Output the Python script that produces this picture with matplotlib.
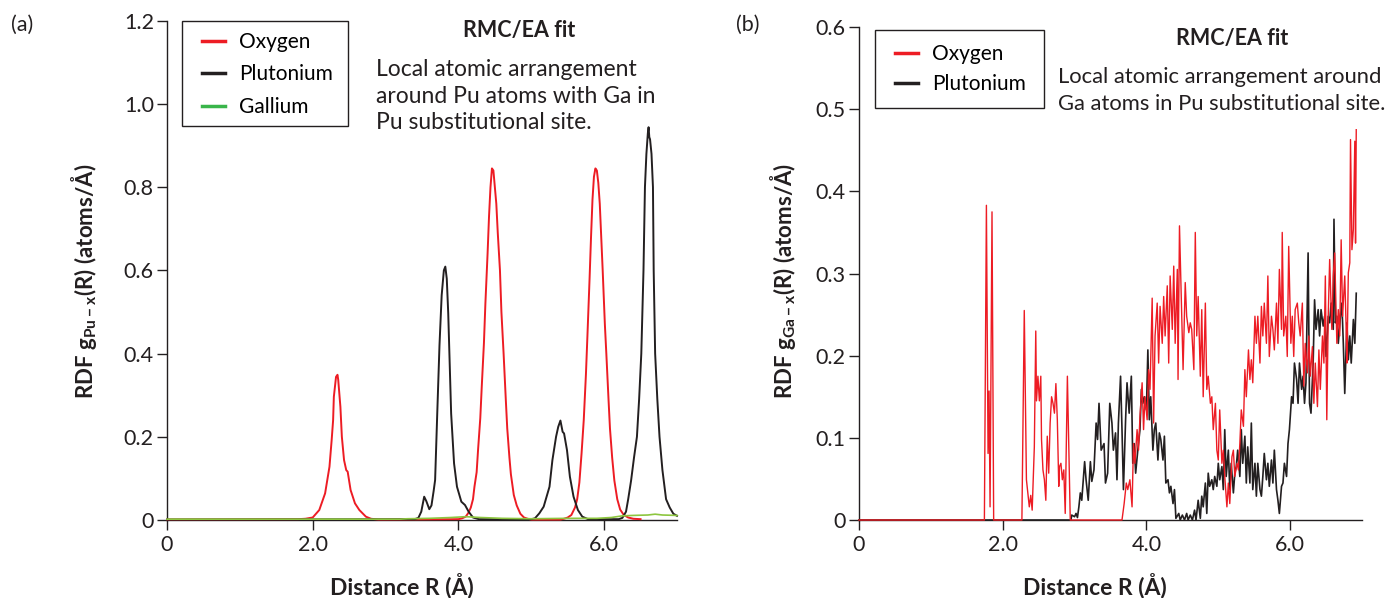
import matplotlib
matplotlib.use("Agg")
import matplotlib.pyplot as plt
from matplotlib.lines import Line2D
from matplotlib.patches import Rectangle

plt.rcParams['font.family'] = ['Lato', 'DejaVu Sans']
plt.rcParams['mathtext.fontset'] = 'custom'
plt.rcParams['mathtext.rm'] = 'Lato'
plt.rcParams['mathtext.bf'] = 'Lato:bold'

# ---------------- data, panel (a) ----------------
ox_a_r = [0, 1.80, 1.90, 2.00, 2.09, 2.17, 2.23, 2.26, 2.28, 2.29, 2.32, 2.34, 2.35, 2.38, 2.40,
          2.43, 2.46, 2.48, 2.52, 2.58, 2.64, 2.73, 2.80, 2.90,
          4.00, 4.05, 4.10, 4.14, 4.17, 4.20, 4.22, 4.25, 4.27, 4.30, 4.32, 4.35, 4.37, 4.40, 4.42,
          4.44, 4.46, 4.48, 4.50, 4.52, 4.54, 4.57, 4.59, 4.62, 4.65, 4.67, 4.70, 4.72, 4.76, 4.80,
          4.85, 4.90, 4.95, 5.00,
          5.40, 5.45, 5.50, 5.55, 5.60, 5.63, 5.66, 5.69, 5.72, 5.75, 5.77, 5.80, 5.82, 5.84, 5.86,
          5.88, 5.90, 5.92, 5.94, 5.96, 5.98, 6.01, 6.03, 6.06, 6.08, 6.11, 6.14, 6.18, 6.22, 6.27,
          6.33, 6.40, 6.50]
ox_a_g = [0.001, 0.002, 0.003, 0.006, 0.024, 0.064, 0.128, 0.192, 0.240, 0.296, 0.344, 0.349, 0.337,
          0.272, 0.200, 0.144, 0.120, 0.116, 0.072, 0.040, 0.024, 0.008, 0.003, 0.001,
          0.002, 0.004, 0.008, 0.018, 0.030, 0.050, 0.080, 0.115, 0.170, 0.245, 0.320, 0.425, 0.520,
          0.640, 0.730, 0.800, 0.845, 0.840, 0.800, 0.760, 0.690, 0.600, 0.500, 0.400, 0.290, 0.220,
          0.150, 0.110, 0.060, 0.035, 0.015, 0.006, 0.003, 0.001,
          0.001, 0.003, 0.006, 0.012, 0.030, 0.050, 0.090, 0.160, 0.240, 0.350, 0.440, 0.580, 0.680,
          0.770, 0.825, 0.845, 0.840, 0.810, 0.760, 0.680, 0.600, 0.470, 0.400, 0.290, 0.220, 0.150,
          0.095, 0.050, 0.025, 0.012, 0.006, 0.003, 0.002]

pu_a_r = [0, 3.40, 3.45, 3.49, 3.53, 3.56, 3.60, 3.63, 3.66, 3.68, 3.71, 3.74, 3.77, 3.80, 3.82,
          3.84, 3.86, 3.90, 3.94, 3.98, 4.04, 4.09, 4.14, 4.20, 4.28,
          5.00, 5.05, 5.11, 5.17, 5.25, 5.29, 5.34, 5.37, 5.40, 5.43, 5.45, 5.49, 5.53, 5.58, 5.64,
          5.70, 5.78,
          6.20, 6.25, 6.30, 6.33, 6.37, 6.41, 6.45, 6.48, 6.51, 6.54, 6.56, 6.58, 6.60, 6.61, 6.62,
          6.63, 6.65, 6.67, 6.68, 6.70, 6.73, 6.76, 6.80, 6.85, 6.90, 6.95, 7.00]
pu_a_g = [0.001, 0.002, 0.005, 0.020, 0.056, 0.045, 0.026, 0.035, 0.070, 0.096, 0.260, 0.420, 0.540,
          0.600, 0.609, 0.580, 0.497, 0.256, 0.136, 0.080, 0.044, 0.036, 0.020, 0.006, 0.002,
          0.002, 0.004, 0.016, 0.032, 0.080, 0.144, 0.200, 0.224, 0.239, 0.212, 0.208, 0.168, 0.104,
          0.056, 0.024, 0.008, 0.002,
          0.002, 0.005, 0.020, 0.050, 0.095, 0.150, 0.200, 0.290, 0.400, 0.600, 0.800, 0.880, 0.930,
          0.944, 0.920, 0.915, 0.880, 0.800, 0.600, 0.400, 0.290, 0.200, 0.120, 0.050, 0.030, 0.015,
          0.010]

ga_a_r = [0, 3.20, 3.30, 3.60, 3.90, 4.10, 4.30, 4.60, 5.00, 5.50, 5.90, 6.10, 6.25, 6.40, 6.60,
          6.70, 6.80, 7.00]
ga_a_g = [0.002, 0.002, 0.003, 0.004, 0.006, 0.008, 0.006, 0.004, 0.003, 0.004, 0.004, 0.006, 0.010,
          0.011, 0.012, 0.014, 0.012, 0.011]

# ---------------- data, panel (b) ----------------
ox_b_r = [0, 1.745, 1.773, 1.796, 1.81, 1.824, 1.851, 1.874, 2.267, 2.30, 2.33, 2.35, 2.37, 2.39,
          2.41, 2.44, 2.46, 2.47, 2.49, 2.51, 2.53, 2.54, 2.56, 2.58, 2.60, 2.62, 2.64, 2.66, 2.68,
          2.70, 2.72, 2.74, 2.76, 2.78, 2.79, 2.81, 2.83, 2.85, 2.87, 2.90, 2.92, 2.94, 3.66,
          3.69, 3.72, 3.74, 3.77, 3.80, 3.82, 3.84, 3.87, 3.89, 3.91, 3.94, 3.96, 3.98, 4.01, 4.03,
          4.05, 4.08, 4.10, 4.12, 4.15, 4.17, 4.19, 4.22, 4.24, 4.26, 4.29, 4.31, 4.33, 4.36, 4.38,
          4.40, 4.43, 4.44, 4.46, 4.49, 4.51, 4.54, 4.56, 4.59, 4.61, 4.63, 4.66, 4.68, 4.70, 4.72,
          4.75, 4.77, 4.79, 4.82, 4.84, 4.86, 4.89, 4.91, 4.93, 4.96, 4.98, 5.00, 5.02, 5.05, 5.07,
          5.09, 5.12, 5.14, 5.16, 5.19, 5.21, 5.23, 5.26, 5.28, 5.30, 5.32, 5.35, 5.37, 5.39, 5.42,
          5.44, 5.46, 5.48, 5.51, 5.53, 5.55, 5.58, 5.60, 5.62, 5.64, 5.67, 5.69, 5.71, 5.74, 5.76,
          5.78, 5.81, 5.83, 5.85, 5.88, 5.89, 5.91, 5.94, 5.96, 5.98, 6.01, 6.03, 6.05, 6.07, 6.10,
          6.12, 6.14, 6.17, 6.19, 6.21, 6.24, 6.26, 6.28, 6.31, 6.33, 6.35, 6.38, 6.40, 6.42, 6.45,
          6.47, 6.49, 6.51, 6.53, 6.55, 6.58, 6.60, 6.62, 6.65, 6.67, 6.69, 6.71, 6.73, 6.76, 6.78,
          6.79, 6.81, 6.83, 6.84, 6.86, 6.88, 6.90, 6.91, 6.92]
ox_b_g = [0, 0, 0.383, 0.081, 0.157, 0.016, 0.375, 0, 0, 0.255, 0.049, 0.033, 0.016, 0.030,
          0.012, 0.089, 0.230, 0.145, 0.175, 0.145, 0.175, 0.098, 0.061, 0.049, 0.024, 0.102, 0.057,
          0.118, 0.150, 0.142, 0.130, 0.166, 0.122, 0.041, 0.065, 0.069, 0.049, 0.061, 0.008, 0.175,
          0.089, 0, 0,
          0.020, 0.045, 0.037, 0.049, 0.016, 0.093, 0.069, 0.110, 0.085, 0.126, 0.167, 0.110, 0.150,
          0.122, 0.183, 0.159, 0.270, 0.118, 0.224, 0.264, 0.191, 0.260, 0.215, 0.272, 0.224, 0.285,
          0.191, 0.297, 0.232, 0.309, 0.215, 0.305, 0.171, 0.358, 0.252, 0.183, 0.289, 0.248, 0.228,
          0.240, 0.232, 0.183, 0.350, 0.224, 0.272, 0.175, 0.256, 0.150, 0.264, 0.159, 0.175, 0.142,
          0.150, 0.110, 0.142, 0.085, 0.073, 0.134, 0.069, 0.085, 0.053, 0.016, 0.045, 0.020, 0.077,
          0.085, 0.053, 0.069, 0.061, 0.093, 0.134, 0.114, 0.183, 0.150, 0.207, 0.171, 0.195, 0.167,
          0.248, 0.215, 0.248, 0.191, 0.260, 0.224, 0.264, 0.215, 0.297, 0.199, 0.248, 0.232, 0.207,
          0.264, 0.215, 0.305, 0.232, 0.350, 0.224, 0.248, 0.199, 0.333, 0.215, 0.248, 0.199, 0.256,
          0.264, 0.240, 0.224, 0.264, 0.163, 0.215, 0.179, 0.224, 0.175, 0.211, 0.142, 0.191, 0.138,
          0.207, 0.159, 0.224, 0.191, 0.297, 0.122, 0.248, 0.317, 0.232, 0.297, 0.325, 0.215, 0.256,
          0.224, 0.341, 0.248, 0.297, 0.232, 0.191, 0.301, 0.313, 0.463, 0.329, 0.354, 0.461, 0.337,
          0.475]

pu_b_r = [0, 2.95, 2.96, 3.00, 3.02, 3.04, 3.06, 3.08, 3.10, 3.14, 3.16, 3.19, 3.22, 3.24, 3.27,
          3.30, 3.32, 3.34, 3.37, 3.41, 3.43, 3.46, 3.49, 3.52, 3.54, 3.57, 3.59, 3.61, 3.64, 3.66,
          3.68, 3.71, 3.73, 3.76, 3.79, 3.81, 3.83, 3.85, 3.88, 3.91, 3.93, 3.95, 3.97, 4.00, 4.02,
          4.04, 4.06, 4.09, 4.11, 4.13, 4.16, 4.18, 4.20, 4.23, 4.25, 4.27, 4.30, 4.32, 4.34, 4.37,
          4.39, 4.41, 4.45, 4.47, 4.50, 4.53, 4.56, 4.58, 4.61, 4.64, 4.67, 4.69, 4.72, 4.75, 4.77,
          4.79, 4.82, 4.84, 4.86, 4.88, 4.91, 4.93, 4.95, 4.98, 5.00, 5.02, 5.05, 5.07, 5.09, 5.11,
          5.14, 5.16, 5.18, 5.21, 5.23, 5.25, 5.27, 5.30, 5.32, 5.34, 5.37, 5.39, 5.41, 5.44, 5.46,
          5.48, 5.51, 5.53, 5.55, 5.58, 5.60, 5.62, 5.64, 5.67, 5.69, 5.71, 5.74, 5.76, 5.78, 5.81,
          5.83, 5.85, 5.88, 5.90, 5.92, 5.95, 5.97, 5.99, 6.02, 6.04, 6.06, 6.09, 6.11, 6.13, 6.16,
          6.18, 6.20, 6.22, 6.25, 6.27, 6.29, 6.32, 6.34, 6.36, 6.39, 6.41, 6.43, 6.46, 6.48, 6.50,
          6.53, 6.55, 6.57, 6.60, 6.61, 6.63, 6.65, 6.67, 6.70, 6.72, 6.74, 6.76, 6.79, 6.81, 6.83,
          6.85, 6.88, 6.90, 6.92]
pu_b_g = [0, 0, 0.006, 0.004, 0.008, 0.003, 0.016, 0.033, 0.024, 0.071, 0.049, 0.024, 0.071, 0.047,
          0.061, 0.118, 0.098, 0.142, 0.085, 0.093, 0.045, 0.057, 0.142, 0.118, 0.085, 0.106, 0.049,
          0.118, 0.175, 0.110, 0.037, 0.122, 0.167, 0.130, 0.175, 0.069, 0.093, 0.057, 0.085, 0.110,
          0.159, 0.142, 0.150, 0.134, 0.207, 0.122, 0.150, 0.085, 0.110, 0.118, 0.073, 0.106, 0.098,
          0.073, 0.102, 0.045, 0.049, 0.033, 0.041, 0.020, 0.037, 0.002, 0.008, 0, 0.006, 0, 0.008,
          0, 0.006, 0, 0.012, 0, 0.024, 0.002, 0.029, 0.016, 0.045, 0.008, 0.057, 0.041, 0.049, 0.037,
          0.053, 0.041, 0.069, 0.049, 0.065, 0.037, 0.110, 0.053, 0.085, 0.037, 0.069, 0.033, 0.057,
          0.065, 0.085, 0.053, 0.110, 0.069, 0.102, 0.045, 0.089, 0.045, 0.118, 0.037, 0.069, 0.029,
          0.069, 0.037, 0.029, 0.053, 0.081, 0.049, 0.069, 0.041, 0.073, 0.045, 0.085, 0.037, 0.024,
          0.008, 0.041, 0.045, 0.069, 0.053, 0.093, 0.110, 0.150, 0.142, 0.191, 0.171, 0.142, 0.191,
          0.159, 0.175, 0.142, 0.167, 0.325, 0.142, 0.130, 0.191, 0.268, 0.232, 0.256, 0.224, 0.256,
          0.236, 0.248, 0.199, 0.248, 0.240, 0.264, 0.232, 0.366, 0.240, 0.248, 0.215, 0.248, 0.264,
          0.215, 0.154, 0.240, 0.195, 0.224, 0.191, 0.244, 0.215, 0.276]

RED = '#ed1c24'
BLK = '#231f20'
GRN = '#8dc63f'
GRN_LEG = '#39b54a'

W, H = 1398, 598
fig = plt.figure(figsize=(W / 100, H / 100), dpi=100)
ax1 = fig.add_axes([167 / W, (H - 520) / H, (677 - 167) / W, (520 - 20.7) / H])
ax2 = fig.add_axes([859 / W, (H - 520) / H, (1362 - 859) / W, (520 - 27) / H])


def style_axis(ax, ymax, yticks, ylabels):
    ax.set_xlim(0, 7)
    ax.set_ylim(0, ymax)
    for s in ['top', 'right']:
        ax.spines[s].set_visible(False)
    for s in ['left', 'bottom']:
        ax.spines[s].set_color(BLK)
        ax.spines[s].set_linewidth(1.0)
    ax.set_xticks([0, 2, 4, 6])
    ax.set_xticklabels(['0', '2.0', '4.0', '6.0'])
    ax.set_yticks(yticks)
    ax.set_yticklabels(ylabels)
    ax.tick_params(axis='both', direction='out', length=7.5, width=1.0, color=BLK,
                   labelsize=15.5, labelcolor=BLK)
    ax.tick_params(axis='y', pad=2)
    ax.tick_params(axis='x', pad=3.5)


style_axis(ax1, 1.2, [0, 0.2, 0.4, 0.6, 0.8, 1.0, 1.2],
           ['0', '0.2', '0.4', '0.6', '0.8', '1.0', '1.2'])
style_axis(ax2, 0.6, [0, 0.1, 0.2, 0.3, 0.4, 0.5, 0.6],
           ['0', '0.1', '0.2', '0.3', '0.4', '0.5', '0.6'])

ax1.plot(ox_a_r, ox_a_g, color=RED, lw=1.4, zorder=3, clip_on=False)
ax1.plot(pu_a_r, pu_a_g, color=BLK, lw=1.4, zorder=3, clip_on=False)
ax1.plot(ga_a_r, ga_a_g, color=GRN, lw=1.2, zorder=3, clip_on=False)

ax2.plot(pu_b_r, pu_b_g, color=BLK, lw=1.2, zorder=3, clip_on=False)
ax2.plot(ox_b_r, ox_b_g, color=RED, lw=1.0, zorder=3, clip_on=False)

# legends (frame drawn as a figure rectangle)
hs_a = [Line2D([], [], color=RED, lw=2.5), Line2D([], [], color=BLK, lw=2.5),
        Line2D([], [], color=GRN_LEG, lw=2.5)]
fig.legend(hs_a, ['Oxygen', 'Plutonium', 'Gallium'], loc='upper left',
           bbox_to_anchor=(201.6 / W, 1 - 32 / H), frameon=False, fontsize=15,
           borderpad=0, borderaxespad=0, handlelength=1.13, handletextpad=0.65,
           labelspacing=0.6)
fig.add_artist(Rectangle((181.7 / W, 1 - 126 / H), (348 - 181.7) / W, (126 - 20.7) / H,
                         transform=fig.transFigure, fill=False, edgecolor=BLK, lw=1.0))

hs_b = [Line2D([], [], color=RED, lw=2.5), Line2D([], [], color=BLK, lw=2.5)]
fig.legend(hs_b, ['Oxygen', 'Plutonium'], loc='upper left',
           bbox_to_anchor=(894.7 / W, 1 - 44 / H), frameon=False, fontsize=15,
           borderpad=0, borderaxespad=0, handlelength=1.13, handletextpad=0.65,
           labelspacing=0.5)
fig.add_artist(Rectangle((874.5 / W, 1 - 108 / H), (1043.7 - 874.5) / W, (108 - 30) / H,
                         transform=fig.transFigure, fill=False, edgecolor=BLK, lw=1.0))

# titles and notes
fig.text(519 / W, 1 - 36.7 / H, 'RMC/EA fit', ha='center', va='baseline', fontsize=15.5,
         fontweight='bold', color=BLK)
for i, line in enumerate(['Local atomic arrangement', 'around Pu atoms with Ga in',
                          'Pu substitutional site.']):
    fig.text(376 / W, 1 - (76 + 26.7 * i) / H, line, ha='left', va='baseline', fontsize=16.5,
             color=BLK)

fig.text(1232.5 / W, 1 - 45 / H, 'RMC/EA fit', ha='center', va='baseline', fontsize=15.5,
         fontweight='bold', color=BLK)
for i, line in enumerate(['Local atomic arrangement around',
                          'Ga atoms in Pu substitutional site.']):
    fig.text(1058 / W, 1 - (83.3 + 26.7 * i) / H, line, ha='left', va='baseline',
             fontsize=15.8, color=BLK)

# panel letters
fig.text(11 / W, 1 - 25 / H, '(a)', ha='left', va='center', fontsize=15.5, color=BLK)
fig.text(736 / W, 1 - 25 / H, '(b)', ha='left', va='center', fontsize=15.5, color=BLK)

# axis labels
fig.text(402 / W, 1 - 586 / H, 'Distance R (Å)', ha='center', va='center', fontsize=16.5,
         fontweight='bold', color=BLK)
fig.text(1095 / W, 1 - 586 / H, 'Distance R (Å)', ha='center', va='center', fontsize=16.5,
         fontweight='bold', color=BLK)
fig.text(84 / W, 1 - 281 / H, r'RDF g$_{\mathbf{Pu-x}}$(R) (atoms/Å)', rotation=90,
         ha='center', va='center', fontsize=16, fontweight='bold', color=BLK)
fig.text(783 / W, 1 - 281 / H, r'RDF g$_{\mathbf{Ga-x}}$(R) (atoms/Å)', rotation=90,
         ha='center', va='center', fontsize=16, fontweight='bold', color=BLK)

fig.savefig('out.png', dpi=100)
